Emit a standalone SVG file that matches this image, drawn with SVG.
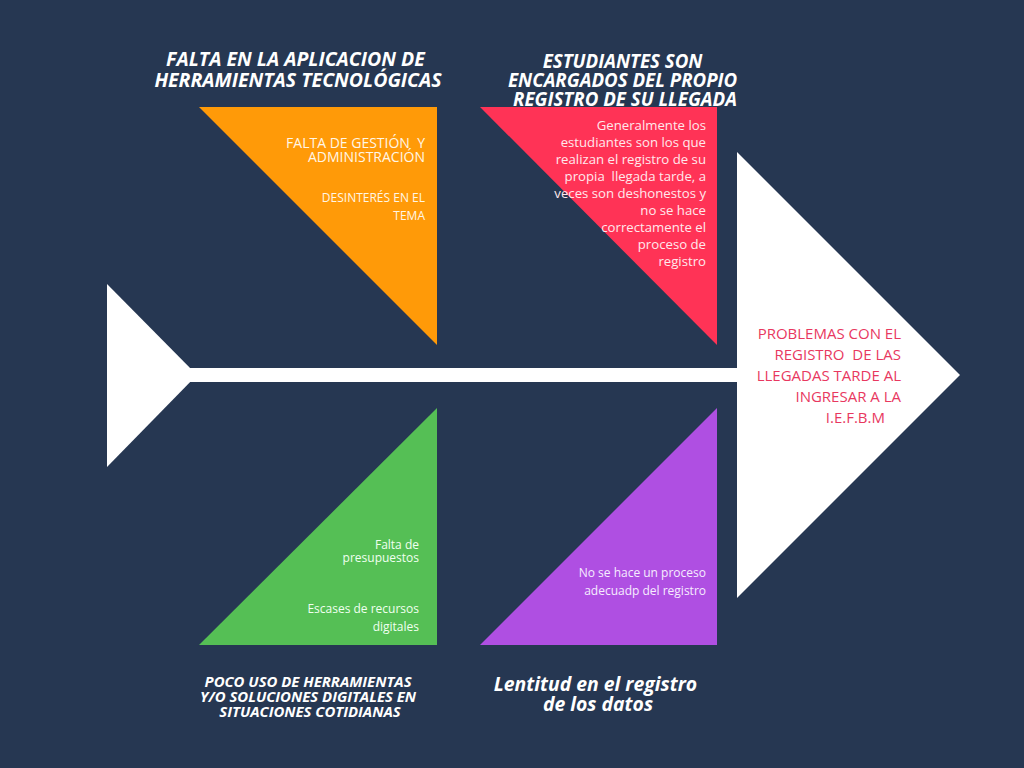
<svg xmlns="http://www.w3.org/2000/svg" width="1024" height="768" viewBox="0 0 1024 768">
  <style>
    .title { font-family: "Open Sans", "Liberation Sans", sans-serif; font-weight: bold; font-style: italic; fill: #ffffff; text-anchor: middle; }
    .note { font-family: "Open Sans", "Liberation Sans", sans-serif; fill: #ffffff; text-anchor: end; white-space: pre; }
    .bone { fill: #ffffff; }
  </style>
  <rect width="1024" height="768" fill="#263752"/>

  <!-- spine, tail and head -->
  <g id="connectors">
    <rect class="bone" x="185" y="368" width="555" height="14"/>
  </g>
  <g id="tail">
    <polygon class="bone" points="107,284 197,375 107,467"/>
  </g>
  <g id="head">
    <polygon class="bone" points="737,152 960,375 737,598"/>
    <text class="note" style="fill:#e8385f" font-size="15" xml:space="preserve"><tspan x="901" y="339">PROBLEMAS CON EL</tspan><tspan x="901" y="360">REGISTRO  DE LAS</tspan><tspan x="901" y="381">LLEGADAS TARDE AL</tspan><tspan x="901" y="402">INGRESAR A LA</tspan><tspan x="885" y="423">I.E.F.B.M</tspan></text>
  </g>

  <!-- upper-left cause -->
  <g id="cause-tools">
    <polygon points="199,107 437,107 437,345" fill="#ff9a08"/>
    <text class="title" font-size="19.5">
      <tspan x="298" y="66">FALTA EN LA APLICACION DE</tspan>
      <tspan x="298" y="87">HERRAMIENTAS TECNOLÓGICAS</tspan>
    </text>
    <text class="note" font-size="14" style="fill:#fff6e6" xml:space="preserve"><tspan x="425" y="148">FALTA DE GESTIÓN  Y</tspan><tspan x="425" y="162">ADMINISTRACIÓN</tspan></text>
    <text class="note" font-size="12" style="fill:#fff6e6"><tspan x="425" y="202">DESINTERÉS EN EL</tspan><tspan x="425" y="220">TEMA</tspan></text>
  </g>

  <!-- upper-right cause -->
  <g id="cause-students">
    <polygon points="480,107 717,107 717,345" fill="#ff3356"/>
    <text class="title" font-size="18.7">
      <tspan x="625" y="68">ESTUDIANTES SON</tspan>
      <tspan x="625" y="87">ENCARGADOS DEL PROPIO</tspan>
      <tspan x="625" y="106">REGISTRO DE SU LLEGADA</tspan>
    </text>
    <text class="note" font-size="13.2" style="fill:#ffe8ec" xml:space="preserve"><tspan x="706" y="130">Generalmente los</tspan><tspan x="706" y="147">estudiantes son los que</tspan><tspan x="706" y="164">realizan el registro de su</tspan><tspan x="706" y="181">propia  llegada tarde, a</tspan><tspan x="706" y="198">veces son deshonestos y</tspan><tspan x="706" y="215">no se hace</tspan><tspan x="706" y="232">correctamente el</tspan><tspan x="706" y="249">proceso de</tspan><tspan x="706" y="266">registro</tspan></text>
  </g>

  <!-- lower-left cause -->
  <g id="cause-digital">
    <polygon points="437,408 437,645 199,645" fill="#55bf55"/>
    <text class="title" font-size="14.9">
      <tspan x="310" y="687">POCO USO DE HERRAMIENTAS</tspan>
      <tspan x="310" y="702">Y/O SOLUCIONES DIGITALES EN</tspan>
      <tspan x="310" y="717">SITUACIONES COTIDIANAS</tspan>
    </text>
    <text class="note" font-size="12" style="fill:#f0fff0"><tspan x="419" y="549">Falta de</tspan><tspan x="419" y="562">presupuestos</tspan><tspan x="419" y="613">Escases de recursos</tspan><tspan x="419" y="631">digitales</tspan></text>
  </g>

  <!-- lower-right cause -->
  <g id="cause-slow">
    <polygon points="717,408 717,645 480,645" fill="#af4fe2"/>
    <text class="title" font-size="19.4">
      <tspan x="598" y="691">Lentitud en el registro</tspan>
      <tspan x="598" y="711">de los datos</tspan>
    </text>
    <text class="note" font-size="12" style="fill:#f6ecff"><tspan x="706" y="577">No se hace un proceso</tspan><tspan x="706" y="595">adecuadp del registro</tspan></text>
  </g>
</svg>
